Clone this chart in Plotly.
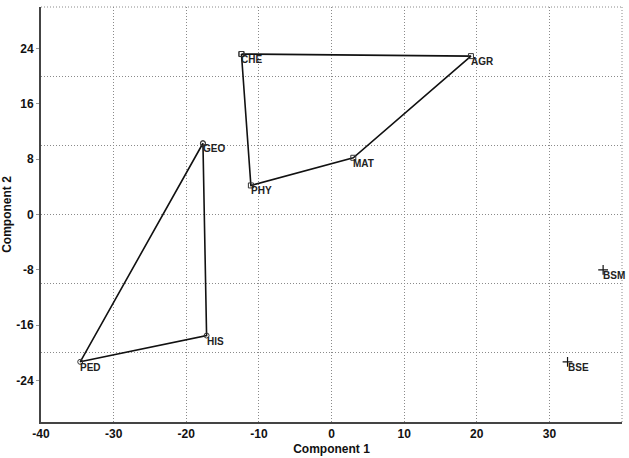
import plotly.graph_objects as go

# data
poly1_names = ["CHE", "AGR", "MAT", "PHY", "CHE"]
poly1_x = [-12.4, 19.2, 3.0, -11.1, -12.4]
poly1_y = [23.2, 22.9, 8.2, 4.2, 23.2]

poly2_names = ["GEO", "HIS", "PED", "GEO"]
poly2_x = [-17.7, -17.2, -34.6, -17.7]
poly2_y = [10.3, -17.5, -21.3, 10.3]

other_names = ["BSM", "BSE"]
other_x = [37.4, 32.5]
other_y = [-8.0, -21.3]

x_ticks = [-40, -30, -20, -10, 0, 10, 20, 30]
y_ticks = [-24, -16, -8, 0, 8, 16, 24]
x_grid = [-30, -20, -10, 0, 10, 20, 30]
y_grid = [-20, -10, 0, 10, 20]

GRID = "#8a8a8a"
DASH = "1px,2px"

fig = go.Figure()
fig.add_trace(go.Scatter(
    x=poly1_x, y=poly1_y, mode="lines+markers",
    line=dict(color="#111", width=1.6),
    marker=dict(symbol="square-open", size=5, color="#333", line=dict(width=1)),
    hoverinfo="skip"))
fig.add_trace(go.Scatter(
    x=poly2_x, y=poly2_y, mode="lines+markers",
    line=dict(color="#111", width=1.6),
    marker=dict(symbol="circle-open", size=5, color="#333", line=dict(width=1)),
    hoverinfo="skip"))
fig.add_trace(go.Scatter(
    x=other_x, y=other_y, mode="markers",
    marker=dict(symbol="cross-thin-open", size=7, color="#111", line=dict(width=1.2, color="#111")),
    hoverinfo="skip"))

for names, xs, ys in [(poly1_names[:-1], poly1_x, poly1_y),
                      (poly2_names[:-1], poly2_x, poly2_y),
                      (other_names, other_x, other_y)]:
    for n, x, y in zip(names, xs, ys):
        fig.add_annotation(x=x, y=y, text="<b>" + n + "</b>", showarrow=False,
                           xanchor="left", yanchor="top", xshift=-2, yshift=2,
                           font=dict(family="Arial, sans-serif", size=10, color="#222"))

# dotted frame at top and right
fig.add_shape(type="line", xref="paper", yref="paper", x0=0, x1=1, y0=1, y1=1,
              line=dict(color=GRID, width=1, dash=DASH), layer="below")
fig.add_shape(type="line", xref="paper", yref="paper", x0=1, x1=1, y0=0, y1=1,
              line=dict(color=GRID, width=1, dash=DASH), layer="below")

fig.update_layout(
    width=629, height=458,
    margin=dict(l=41, r=7, t=7, b=36),
    paper_bgcolor="white", plot_bgcolor="white",
    showlegend=False,
    font=dict(family="Arial, sans-serif", size=11, color="#111"),
)
fig.update_xaxes(
    range=[-40, 40], tickvals=x_ticks, ticktext=[str(v) for v in x_ticks],
    tickfont=dict(family="Arial, sans-serif", size=12, color="#111", weight="bold"),
    showgrid=False, zeroline=False, automargin=False,
    showline=True, linecolor="#444", linewidth=2,
    ticks="",
    minor=dict(tickvals=x_grid, showgrid=True, gridcolor=GRID, griddash=DASH, gridwidth=1),
    title=dict(text="<b>Component 1</b>", font=dict(size=12, color="#111"), standoff=4),
)
fig.update_yaxes(
    range=[-30, 30], tickvals=y_ticks, ticktext=[str(v) for v in y_ticks],
    tickfont=dict(family="Arial, sans-serif", size=12, color="#111", weight="bold"),
    showgrid=False, zeroline=False, automargin=False,
    showline=True, linecolor="#444", linewidth=2,
    ticks="outside", ticklen=3, tickcolor="#999",
    minor=dict(tickvals=y_grid, showgrid=True, gridcolor=GRID, griddash=DASH, gridwidth=1),
    title=dict(text="<b>Component 2</b>", font=dict(size=12, color="#111"), standoff=4),
)

fig.write_html("out.html")
